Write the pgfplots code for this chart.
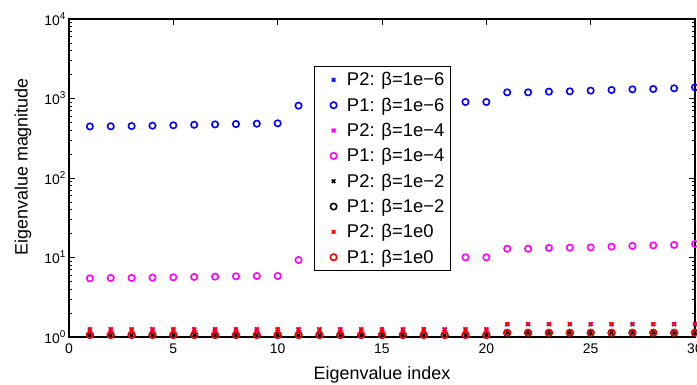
\documentclass[border=0pt]{standalone}
\usepackage{fontspec}
\setmainfont{Liberation Sans}
\usepackage{pgfplots}
\pgfplotsset{compat=1.18}
\definecolor{mblue}{RGB}{0,0,255}
\definecolor{mmag}{RGB}{255,0,255}
\definecolor{mred}{RGB}{255,0,0}
\newcommand{\tp}[1]{10\raisebox{0.42em}{\fontsize{10}{10}\selectfont #1}}
\begin{document}
\begin{tikzpicture}
\begin{axis}[
  scale only axis, width=626bp, height=318bp,
  xmin=0, xmax=30, ymode=log, ymin=1, ymax=10000,
  xtick={0,5,...,30},
  ytick={1,10,100,1000,10000},
  yticklabels={\tp{0},\tp{1},\tp{2},\tp{3},\tp{4}},
  minor ytick={2,3,...,9,20,30,...,90,200,300,...,900,2000,3000,...,9000},
  tick align=inside, major tick length=6bp, minor tick length=3.5bp,
  axis line style={line width=1.1bp, black},
  every tick/.style={black, line width=0.8bp},
  /pgf/number format/assume math mode=true,
  ticklabel style={font=\fontsize{14}{14}\selectfont},
  xticklabel style={yshift=-3bp},
  xlabel={Eigenvalue index}, ylabel={Eigenvalue magnitude},
  label style={font=\fontsize{18}{18}\selectfont},
  xlabel style={at={(axis description cs:0.5,-0.12)}, anchor=center},
  ylabel style={at={(axis description cs:-0.0735,0.535)}, anchor=center},
  legend cell align=left,
  legend image code/.code={\path (-15bp,0) (11bp,0); \draw[#1] plot coordinates {(0bp,0bp)};},
  legend style={at={(0.391,0.852)}, anchor=north west, font=\fontsize{18.5}{22}\selectfont,
    draw=black, line width=0.8bp, fill=white, row sep=6.5bp, inner xsep=4bp, inner ysep=4bp},
  only marks,
]
\pgfplotstableread{
x p1a p1b p2hi p1lo
1 445 5.47 1.25 1.06
2 447 5.53 1.25 1.06
3 450 5.53 1.25 1.06
4 455 5.58 1.25 1.06
5 460 5.63 1.25 1.06
6 467 5.69 1.25 1.06
7 472 5.74 1.25 1.06
8 477 5.80 1.25 1.06
9 482 5.85 1.25 1.06
10 487 5.85 1.25 1.06
11 812 9.30 1.25 1.06
12 825 9.40 1.25 1.06
13 838 9.50 1.25 1.06
14 850 9.60 1.25 1.06
15 862 9.70 1.25 1.06
16 873 9.80 1.25 1.06
17 884 9.90 1.25 1.06
18 895 10.0 1.25 1.06
19 904 10.05 1.25 1.06
20 904 10.05 1.25 1.06
21 1195 12.9 1.45 1.13
22 1195 12.9 1.45 1.13
23 1219 13.2 1.45 1.13
24 1231 13.3 1.45 1.13
25 1256 13.4 1.45 1.13
26 1280 13.7 1.45 1.13
27 1304 14.0 1.45 1.13
28 1316 14.2 1.45 1.13
29 1343 14.4 1.45 1.13
30 1381 14.8 1.45 1.13
}\data
\addplot[mblue, mark=x, mark size=2.5bp, mark options={line width=1.6bp}] table[x=x,y=p2hi]{\data};
\addlegendentry{P2: β=1e−6}
\addplot[mblue, mark=o, mark size=3.2bp, mark options={line width=1.6bp}] table[x=x,y=p1a]{\data};
\addlegendentry{P1: β=1e−6}
\addplot[mmag, mark=x, mark size=2.5bp, mark options={line width=1.6bp}] table[x=x,y=p2hi]{\data};
\addlegendentry{P2: β=1e−4}
\addplot[mmag, mark=o, mark size=3.2bp, mark options={line width=1.6bp}] table[x=x,y=p1b]{\data};
\addlegendentry{P1: β=1e−4}
\addplot[black, mark=x, mark size=2.5bp, mark options={line width=1.6bp}] table[x=x,y=p1lo]{\data};
\addlegendentry{P2: β=1e−2}
\addplot[black, mark=o, mark size=3.2bp, mark options={line width=1.6bp}] table[x=x,y=p1lo]{\data};
\addlegendentry{P1: β=1e−2}
\addplot[mred, mark=x, mark size=2.5bp, mark options={line width=1.6bp}] table[x=x,y=p2hi]{\data};
\addlegendentry{P2: β=1e0}
\addplot[mred, mark=o, mark size=3.2bp, mark options={line width=1.6bp}] table[x=x,y=p1lo]{\data};
\addlegendentry{P1: β=1e0}
\end{axis}
\pgfresetboundingbox
\useasboundingbox ([xshift=-69bp,yshift=-48bp]current axis.south west) rectangle ([xshift=2bp,yshift=19bp]current axis.north east);
\end{tikzpicture}
\end{document}
